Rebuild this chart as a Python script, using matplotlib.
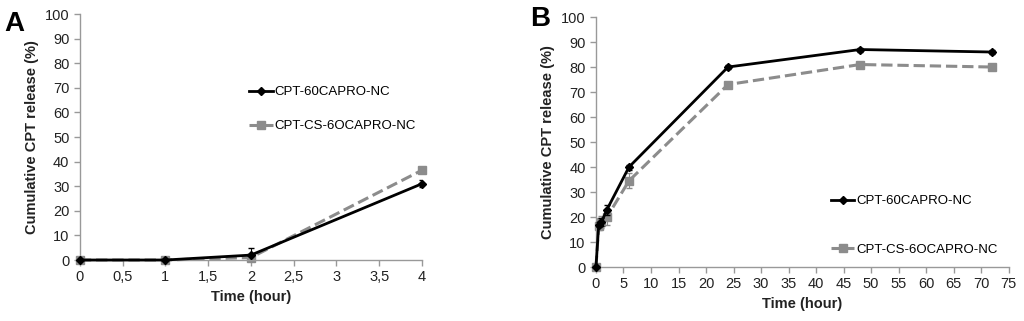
import matplotlib
matplotlib.use("Agg")
import matplotlib.pyplot as plt
from matplotlib.lines import Line2D

plt.rcParams['font.family'] = ['Liberation Sans', 'DejaVu Sans']

# Panel A data
time_a = [0, 1, 2, 4]
cpt_a = [0, 0, 2, 31]
cpt_a_err = [0, 0, 3, 1.5]
cs_a = [0, 0, 1, 36.5]
cs_a_err = [0, 0, 1, 1]
xticks_a = [0, 0.5, 1, 1.5, 2, 2.5, 3, 3.5, 4]
xticklabels_a = ['0', '0,5', '1', '1,5', '2', '2,5', '3', '3,5', '4']

# Panel B data
time_b = [0, 0.5, 1, 2, 6, 24, 48, 72]
cpt_b = [0, 17, 18, 23, 40, 80, 87, 86]
cpt_b_err = [0, 1, 1.5, 2, 1, 0.8, 0.8, 0.8]
cs_b = [0, 16.5, 18, 20, 34.5, 73, 81, 80]
cs_b_err = [0, 1.5, 2.5, 3, 3, 0.8, 0.8, 0.8]
xticks_b = list(range(0, 80, 5))

yticks = list(range(0, 110, 10))
label_cpt = 'CPT-60CAPRO-NC'
label_cs = 'CPT-CS-6OCAPRO-NC'

GRAY = '#8c8c8c'

fig = plt.figure(figsize=(10.24, 3.21), dpi=100)
axA = fig.add_axes([0.078, 0.190, 0.334, 0.766])
axB = fig.add_axes([0.582, 0.168, 0.403, 0.779])

def style(ax):
    for s in ['top', 'right']:
        ax.spines[s].set_visible(False)
    for s in ['left', 'bottom']:
        ax.spines[s].set_color('#999999')
        ax.spines[s].set_linewidth(1.0)
    ax.tick_params(axis='both', colors='#999999', labelcolor='#222222',
                   labelsize=10.5, length=4, width=1.0, direction='out')
    ax.set_yticks(yticks)
    ax.set_ylim(0, 100)
    ax.set_ylabel('Cumulative CPT release (%)', fontsize=10.5, fontweight='bold',
                  color='#222222')
    ax.set_xlabel('Time (hour)', fontsize=10.5, fontweight='bold', color='#222222')

def handles():
    return [Line2D([], [], color='black', ls='-', lw=2.0, marker='D', ms=4),
            Line2D([], [], color=GRAY, ls='--', lw=2.2, marker='s', ms=6)]

def draw(ax, t, a, ae, b, be):
    for y, e, c, ls, lw, m, ms, z in [(b, be, GRAY, '--', 2.2, 's', 6, 2),
                                      (a, ae, 'black', '-', 2.0, 'D', 4, 3)]:
        cont = ax.errorbar(t, y, yerr=e, color=c, ls=ls, lw=lw, marker=m, ms=ms,
                           capsize=2, elinewidth=0.8, zorder=z)
        cont.lines[0].set_clip_on(False)

# Panel A
draw(axA, time_a, cpt_a, cpt_a_err, cs_a, cs_a_err)
style(axA)
axA.set_xlim(0, 4)
axA.set_xticks(xticks_a)
axA.set_xticklabels(xticklabels_a)
axA.legend(handles(), [label_cpt, label_cs], loc='upper left', bbox_to_anchor=(0.46, 0.755),
           frameon=False, fontsize=9.5, handlelength=1.8, handletextpad=0.15,
           labelspacing=1.65)

# Panel B
draw(axB, time_b, cpt_b, cpt_b_err, cs_b, cs_b_err)
style(axB)
axB.set_xlim(0, 75)
axB.set_xticks(xticks_b)
axB.legend(handles(), [label_cpt, label_cs], loc='upper left', bbox_to_anchor=(0.54, 0.335),
           frameon=False, fontsize=9.5, handlelength=1.8, handletextpad=0.15,
           labelspacing=2.75)

fig.text(0.004, 0.965, 'A', fontsize=20, fontweight='bold', va='top', ha='left')
fig.text(0.518, 0.98, 'B', fontsize=20, fontweight='bold', va='top', ha='left')

fig.savefig('out.png', dpi=100)
